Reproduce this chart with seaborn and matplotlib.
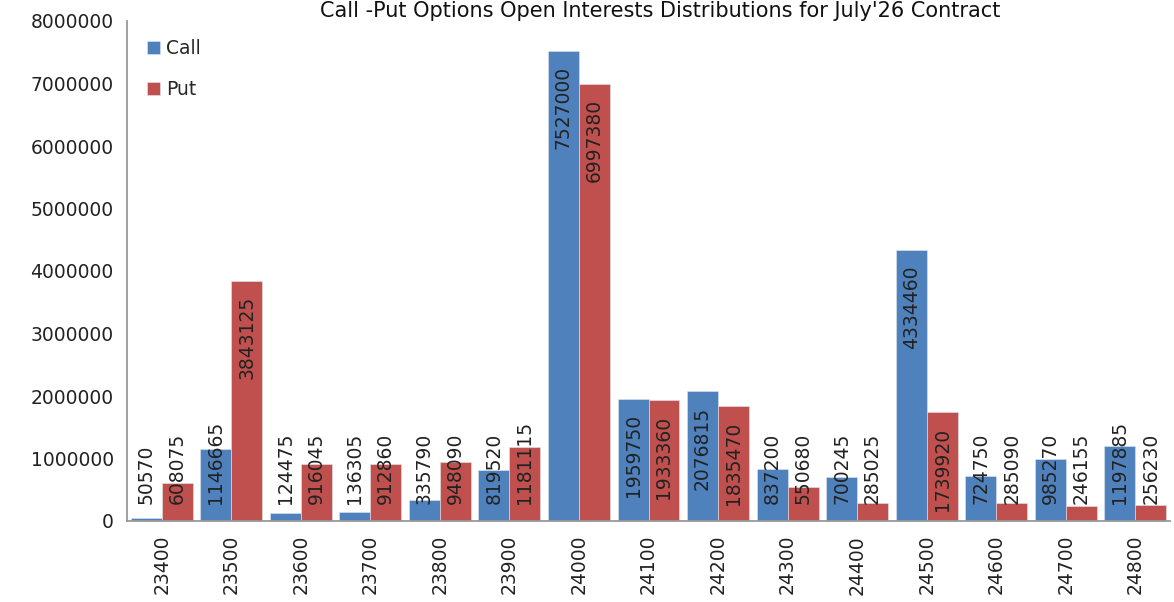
import pandas as pd
import numpy as np
import matplotlib
matplotlib.use("Agg")
import matplotlib.pyplot as plt
import seaborn as sns
from matplotlib.ticker import FuncFormatter, FixedLocator

# ---------------------------------- Data ----------------------------------
strikes = ["23400", "23500", "23600", "23700", "23800", "23900", "24000", "24100",
           "24200", "24300", "24400", "24500", "24600", "24700", "24800"]
call_oi = [50570, 1146665, 124475, 136305, 335790, 819520, 7527000, 1959750,
           2076815, 837200, 700245, 4334460, 724750, 985270, 1197885]
put_oi = [608075, 3843125, 916045, 912860, 948090, 1181115, 6997380, 1933360,
          1835470, 550680, 285025, 1739920, 285090, 246155, 256230]

df = pd.DataFrame({"strike": strikes * 2,
                   "oi": call_oi + put_oi,
                   "type": ["Call"] * len(strikes) + ["Put"] * len(strikes)})

# ---------------------------------- Plot ----------------------------------
sns.set_style("white")
plt.rcParams['font.family'] = ['DejaVu Sans']

fig = plt.figure(figsize=(11.74, 6.02), dpi=100)
ax = fig.add_axes([127/1174, 81/602, 1043/1174, 500/602])

sns.barplot(data=df, x="strike", y="oi", hue="type", order=strikes,
            palette={"Call": "#4F81BD", "Put": "#C0504D"},
            width=0.89, gap=0, saturation=1, ax=ax, edgecolor="#dfe6f0", linewidth=0.4)

ax.set_ylim(0, 8000000)
ax.set_xlim(-0.5, len(strikes) - 0.5)
ax.set_yticks(np.arange(0, 8000001, 1000000))
ax.yaxis.set_major_formatter(FuncFormatter(lambda v, p: f"{int(v)}"))
ax.set_xlabel("")
ax.set_ylabel("")

# ticks between groups, labels centered
ax.xaxis.set_minor_locator(FixedLocator(np.arange(-0.5, len(strikes), 1)))
ax.tick_params(axis="x", which="major", length=0, labelrotation=90, labelsize=13.5, pad=10, colors="#222222")
ax.tick_params(axis="x", which="minor", length=7, width=1.2, color="#999999")
ax.tick_params(axis="y", which="major", length=6, width=1.2, color="#999999", labelsize=13.5, labelcolor="#222222")

for s in ["top", "right"]:
    ax.spines[s].set_visible(False)
for s in ["left", "bottom"]:
    ax.spines[s].set_color("#999999")
    ax.spines[s].set_linewidth(1.3)

# data labels
for bar in ax.patches:
    h = bar.get_height()
    if h == 0 or np.isnan(h):
        continue
    xc = bar.get_x() + bar.get_width() / 2
    txt = f"{int(round(h))}"
    if h < 1500000:
        ax.annotate(txt, (xc, 0), xytext=(0, 12), textcoords="offset points",
                    rotation=90, ha="center", va="bottom", fontsize=13.5, color="#222222")
    else:
        ax.annotate(txt, (xc, h), xytext=(0, -11), textcoords="offset points",
                    rotation=90, ha="center", va="top", fontsize=13.5, color="#222222")

leg = ax.legend(loc="upper left", bbox_to_anchor=(0.003, 0.997), frameon=False,
                fontsize=13.5, handlelength=0.7, handleheight=0.7, handletextpad=0.3,
                labelspacing=1.15)

fig.text(660/1174, 1 - 1/602, "Call -Put Options Open Interests Distributions for July'26 Contract",
         ha="center", va="top", fontsize=15, color="#111111")

fig.savefig("out.png", dpi=100)
